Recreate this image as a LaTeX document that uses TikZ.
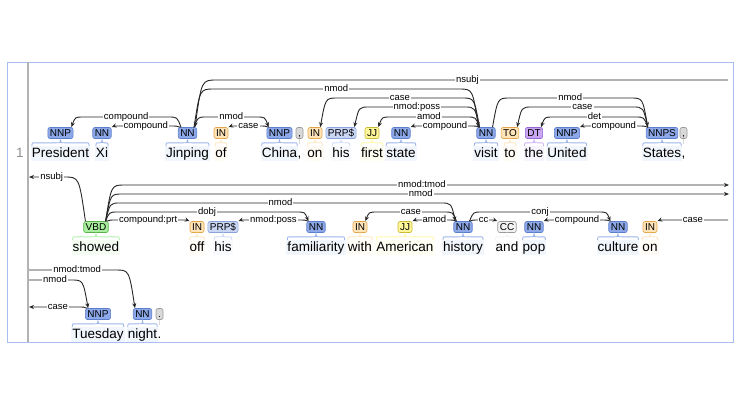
\documentclass[tikz,border=0pt]{standalone}
\usepackage{fontspec}
\setmainfont{Liberation Sans}
\usetikzlibrary{arrows.meta,positioning,calc}

\definecolor{nnF}{HTML}{8CA8E8}\definecolor{nnD}{HTML}{5C7CCC}
\definecolor{prpF}{HTML}{C9D7F5}\definecolor{prpD}{HTML}{8AA2DC}
\definecolor{inF}{HTML}{FFE4B8}\definecolor{inD}{HTML}{E3A54A}
\definecolor{jjF}{HTML}{FFF79A}\definecolor{jjD}{HTML}{C8BA30}
\definecolor{dtF}{HTML}{C8A6F2}\definecolor{dtD}{HTML}{9565D6}
\definecolor{vbF}{HTML}{A9EE9E}\definecolor{vbD}{HTML}{5BB04C}
\definecolor{ccF}{HTML}{F2F2F2}\definecolor{ccD}{HTML}{9A9A9A}
\definecolor{puF}{HTML}{D9D9D9}\definecolor{puD}{HTML}{9A9A9A}
\definecolor{frameblue}{HTML}{A9BEF0}

% token: name, x, baseline, class, tag, word
\newcommand{\tok}[6]{%
  \node[wordtext, fill=#4F!12] (w-#1) at (#2,#3) {#6};
  \node[postag, fill=#4F, draw=#4D, above=7pt of w-#1] (t-#1) {#5};
  \draw[#4F!85, line width=.9pt] let \p1=(w-#1.west), \p2=(w-#1.east), \p3=(t-#1.south) in
    (\x1+1pt,\y3-7pt) .. controls (\x1+1pt,\y3-4pt) .. (\x1+5pt,\y3-4pt)
    -- (\x3-4pt,\y3-4pt) .. controls (\x3,\y3-4pt) .. (\x3,\y3-1pt)
    .. controls (\x3,\y3-4pt) .. (\x3+4pt,\y3-4pt)
    -- (\x2-5pt,\y3-4pt) .. controls (\x2-1pt,\y3-4pt) .. (\x2-1pt,\y3-7pt);
}
% punctuation: name, x, baseline, text
\newcommand{\punc}[4]{%
  \node[wordtext] (w-#1) at (#2,#3) {#4};
  \node[postag, fill=puF, draw=puD, inner xsep=1.5pt, minimum width=7pt, above=7pt of w-#1] (t-#1) {#4};
  \draw[puF, line width=.9pt] (t-#1.south) -- ++(0,-5pt);
}
% dependency: from, to, level, label
\newcommand{\deparc}[4]{%
  \coordinate (h) at (#1); \coordinate (d) at (#2);
  \coordinate (hl) at (h |- 0,#3); \coordinate (dl) at (d |- 0,#3);
  \draw[deplink] let \p1=(h), \p2=(hl), \p3=(d),
      \n1={10+0.25*abs(\y1-\y2)}, \n2={10+0.25*abs(\y3-\y2)} in
    (h) .. controls ($(hl)!\n1*0.3pt!(dl)$) .. ($(hl)!\n1*1pt!(dl)$)
    -- node[deplabel] {#4} ($(dl)!\n2*1pt!(hl)$)
    .. controls ($(dl)!\n2*0.3pt!(hl)$) .. (d);
}

\begin{document}
\begin{tikzpicture}[x=1pt,y=-1pt]
  \tikzstyle{wordtext}=[anchor=base, inner xsep=1pt, inner ysep=1pt, text height=10pt, text depth=3pt, font=\fontsize{13.5}{14}\selectfont]
  \tikzstyle{postag}=[rounded corners=2pt, inner xsep=2pt, inner ysep=0pt, minimum height=11pt, text height=7.5pt, text depth=.5pt, line width=.6pt, font=\fontsize{10}{10}\selectfont]
  \tikzstyle{deplink}=[draw=black!85, line width=.9pt, -{Stealth[length=5pt,width=4pt]}]
  \tikzstyle{deplabel}=[fill=white, inner xsep=1pt, inner ysep=0pt, text height=6.5pt, text depth=1.5pt, font=\fontsize{9.5}{9.5}\selectfont]
  \useasboundingbox (0,0) rectangle (740,400);
  \draw[frameblue, line width=.8pt] (7,62) rectangle (733,342);
  \draw[black!30, line width=1.5pt] (28,62) -- (28,342);
  \node[wordtext, text=black!45] (n1) at (20,157) {1};

  % row 1
  \tok{president}{60.5}{157}{nn}{NNP}{President}
  \tok{xi}{102}{157}{nn}{NN}{Xi}
  \tok{jinping}{187.5}{157}{nn}{NN}{Jinping}
  \tok{of}{221}{157}{in}{IN}{of}
  \tok{china}{279.5}{157}{nn}{NNP}{China}
  \punc{com1}{299.5}{157}{,}
  \tok{on1}{315}{157}{in}{IN}{on}
  \tok{his1}{341}{157}{prp}{PRP\$}{his}
  \tok{first}{372}{157}{jj}{JJ}{first}
  \tok{state}{401}{157}{nn}{NN}{state}
  \tok{visit}{486}{157}{nn}{NN}{visit}
  \tok{to}{510}{157}{in}{TO}{to}
  \tok{the}{534}{157}{dt}{DT}{the}
  \tok{united}{567}{157}{nn}{NNP}{United}
  \tok{states}{662}{157}{nn}{NNPS}{States}
  \punc{com2}{683.5}{157}{,}

  % row 2
  \tok{showed}{96}{251}{vb}{VBD}{showed}
  \tok{off}{197}{251}{in}{IN}{off}
  \tok{his2}{223}{251}{prp}{PRP\$}{his}
  \tok{familiarity}{316}{251}{nn}{NN}{familiarity}
  \tok{with}{360}{251}{in}{IN}{with}
  \tok{american}{405}{251}{jj}{JJ}{American}
  \tok{history}{463}{251}{nn}{NN}{history}
  \tok{and}{507}{251}{cc}{CC}{and}
  \tok{pop}{534}{251}{nn}{NN}{pop}
  \tok{culture}{618}{251}{nn}{NN}{culture}
  \tok{on2}{650}{251}{in}{IN}{on}

  % row 3
  \tok{tuesday}{98}{338}{nn}{NNP}{Tuesday}
  \tok{night}{142.5}{338}{nn}{NN}{night}
  \punc{per}{159.5}{338}{.}

  % ends of arcs that run into the next row
  \coordinate (e1-nsubj) at (728,80);
  \coordinate (e2-nsubj) at (29,177);
  \coordinate (e2-tmod) at (729,185);
  \coordinate (e2-nmod) at (729,194);
  \coordinate (e2-case) at (728,220);
  \coordinate (e3-tmod) at (29,270);
  \coordinate (e3-nmod) at (29,280);
  \coordinate (e3-case) at (29,307);

  % row 1 arcs
  \deparc{[xshift=3pt]t-jinping.north west}{[xshift=-2pt]t-president.north east}{117}{compound}
  \deparc{[xshift=2pt]t-jinping.north west}{t-xi.north east}{126}{compound}
  \deparc{[xshift=-3pt]t-jinping.north east}{[xshift=2pt]t-china.north west}{117}{nmod}
  \deparc{[xshift=2pt]t-china.north west}{t-of.north east}{126}{case}
  \deparc{e1-nsubj}{[xshift=-2pt]t-jinping.north east}{80}{nsubj}
  \deparc{[xshift=-3pt]t-jinping.north east}{[xshift=2pt]t-visit.north west}{89}{nmod}
  \deparc{[xshift=3pt]t-visit.north west}{[xshift=-2pt]t-on1.north east}{98}{case}
  \deparc{[xshift=3pt]t-visit.north west}{[xshift=-2pt]t-his1.north east}{107}{nmod:poss}
  \deparc{[xshift=3pt]t-visit.north west}{[xshift=-1pt]t-first.north east}{117}{amod}
  \deparc{[xshift=3pt]t-visit.north west}{t-state.north east}{126}{compound}
  \deparc{[xshift=-3pt]t-visit.north east}{[xshift=2pt]t-states.north west}{98}{nmod}
  \deparc{[xshift=2pt]t-states.north west}{[xshift=-2pt]t-to.north east}{107}{case}
  \deparc{[xshift=2pt]t-states.north west}{[xshift=-2pt]t-the.north east}{117}{det}
  \deparc{[xshift=2pt]t-states.north west}{t-united.north east}{126}{compound}

  % row 2 arcs
  \deparc{[xshift=2pt]t-showed.north west}{e2-nsubj}{177}{nsubj}
  \deparc{[xshift=-3pt]t-showed.north east}{e2-tmod}{185}{nmod:tmod}
  \deparc{[xshift=-3pt]t-showed.north east}{e2-nmod}{194}{nmod}
  \deparc{[xshift=-3pt]t-showed.north east}{[xshift=2pt]t-history.north west}{203}{nmod}
  \deparc{[xshift=-3pt]t-showed.north east}{[xshift=2pt]t-familiarity.north west}{212}{dobj}
  \deparc{[xshift=-2pt]t-showed.north east}{t-off.north west}{220}{compound:prt}
  \deparc{[xshift=2pt]t-familiarity.north west}{t-his2.north east}{220}{nmod:poss}
  \deparc{[xshift=3pt]t-history.north west}{[xshift=-2pt]t-with.north east}{212}{case}
  \deparc{[xshift=3pt]t-history.north west}{t-american.north east}{220}{amod}
  \deparc{[xshift=-3pt]t-history.north east}{t-and.north west}{220}{cc}
  \deparc{[xshift=-3pt]t-history.north east}{[xshift=2pt]t-culture.north west}{212}{conj}
  \deparc{[xshift=2pt]t-culture.north west}{t-pop.north east}{220}{compound}
  \deparc{e2-case}{t-on2.north east}{220}{case}

  % row 3 arcs
  \deparc{e3-tmod}{[xshift=2pt]t-night.north west}{270}{nmod:tmod}
  \deparc{e3-nmod}{[xshift=3pt]t-tuesday.north west}{280}{nmod}
  \deparc{[xshift=2pt]t-tuesday.north west}{e3-case}{307}{case}
\end{tikzpicture}
\end{document}
